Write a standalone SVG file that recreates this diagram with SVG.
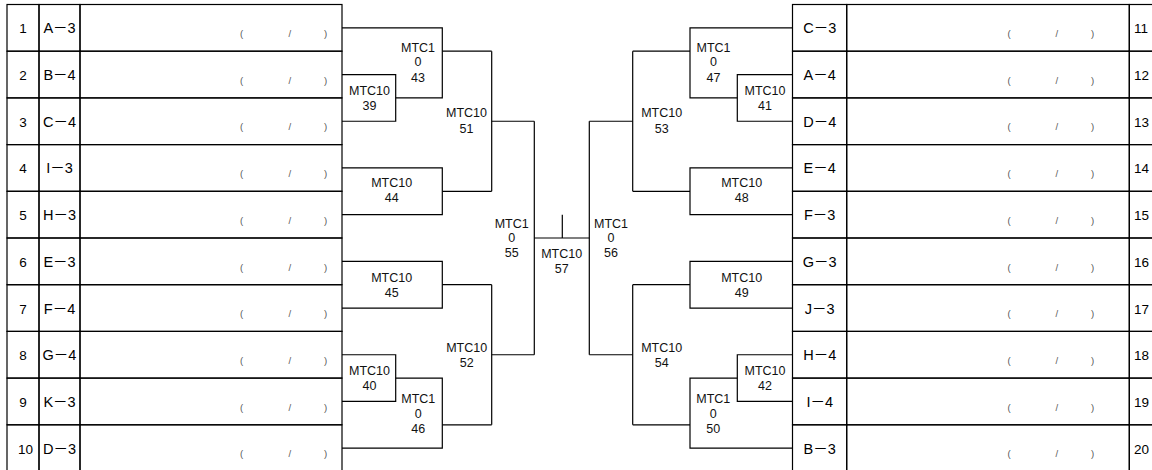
<svg xmlns="http://www.w3.org/2000/svg" width="1152" height="470" viewBox="0 0 1152 470">
<style>
.cell{fill:none;stroke:#000;stroke-width:1.2}
.num{font-family:"Liberation Sans",Arial,sans-serif;font-size:13.5px;fill:#000}
.code{font-family:"Liberation Sans","Noto Sans CJK JP",sans-serif;font-size:14.5px;fill:#000;text-anchor:middle}
.par{font-family:"Liberation Sans",Arial,sans-serif;font-size:9.5px;fill:#555}
.lbl{font-family:"Liberation Sans",Arial,sans-serif;font-size:12.5px;fill:#111;text-anchor:middle}
.con{fill:none;stroke:#000;stroke-width:1.2}
</style>
<rect width="1152" height="470" fill="#fff"/>
<g id="left-table">
<g id="row1"><rect class="cell" x="7" y="4.5" width="32" height="46.7"/><rect class="cell" x="39" y="4.5" width="41" height="46.7"/><rect class="cell" x="80" y="4.5" width="262" height="46.7"/><text class="num" x="23" y="33.3" text-anchor="middle">1</text><text class="code" x="59.5" y="33.3">A－3</text><text class="par" y="37"><tspan x="240">(</tspan> <tspan x="288.5">/</tspan> <tspan x="324">)</tspan></text></g>
<g id="row2"><rect class="cell" x="7" y="51.2" width="32" height="46.7"/><rect class="cell" x="39" y="51.2" width="41" height="46.7"/><rect class="cell" x="80" y="51.2" width="262" height="46.7"/><text class="num" x="23" y="80" text-anchor="middle">2</text><text class="code" x="59.5" y="80">B－4</text><text class="par" y="83.7"><tspan x="240">(</tspan> <tspan x="288.5">/</tspan> <tspan x="324">)</tspan></text></g>
<g id="row3"><rect class="cell" x="7" y="97.9" width="32" height="46.7"/><rect class="cell" x="39" y="97.9" width="41" height="46.7"/><rect class="cell" x="80" y="97.9" width="262" height="46.7"/><text class="num" x="23" y="126.7" text-anchor="middle">3</text><text class="code" x="59.5" y="126.7">C－4</text><text class="par" y="130.4"><tspan x="240">(</tspan> <tspan x="288.5">/</tspan> <tspan x="324">)</tspan></text></g>
<g id="row4"><rect class="cell" x="7" y="144.6" width="32" height="46.7"/><rect class="cell" x="39" y="144.6" width="41" height="46.7"/><rect class="cell" x="80" y="144.6" width="262" height="46.7"/><text class="num" x="23" y="173.4" text-anchor="middle">4</text><text class="code" x="59.5" y="173.4">I－3</text><text class="par" y="177.1"><tspan x="240">(</tspan> <tspan x="288.5">/</tspan> <tspan x="324">)</tspan></text></g>
<g id="row5"><rect class="cell" x="7" y="191.3" width="32" height="46.7"/><rect class="cell" x="39" y="191.3" width="41" height="46.7"/><rect class="cell" x="80" y="191.3" width="262" height="46.7"/><text class="num" x="23" y="220.1" text-anchor="middle">5</text><text class="code" x="59.5" y="220.1">H－3</text><text class="par" y="223.8"><tspan x="240">(</tspan> <tspan x="288.5">/</tspan> <tspan x="324">)</tspan></text></g>
<g id="row6"><rect class="cell" x="7" y="238" width="32" height="46.7"/><rect class="cell" x="39" y="238" width="41" height="46.7"/><rect class="cell" x="80" y="238" width="262" height="46.7"/><text class="num" x="23" y="266.8" text-anchor="middle">6</text><text class="code" x="59.5" y="266.8">E－3</text><text class="par" y="270.5"><tspan x="240">(</tspan> <tspan x="288.5">/</tspan> <tspan x="324">)</tspan></text></g>
<g id="row7"><rect class="cell" x="7" y="284.7" width="32" height="46.7"/><rect class="cell" x="39" y="284.7" width="41" height="46.7"/><rect class="cell" x="80" y="284.7" width="262" height="46.7"/><text class="num" x="23" y="313.5" text-anchor="middle">7</text><text class="code" x="59.5" y="313.5">F－4</text><text class="par" y="317.2"><tspan x="240">(</tspan> <tspan x="288.5">/</tspan> <tspan x="324">)</tspan></text></g>
<g id="row8"><rect class="cell" x="7" y="331.4" width="32" height="46.7"/><rect class="cell" x="39" y="331.4" width="41" height="46.7"/><rect class="cell" x="80" y="331.4" width="262" height="46.7"/><text class="num" x="23" y="360.2" text-anchor="middle">8</text><text class="code" x="59.5" y="360.2">G－4</text><text class="par" y="363.9"><tspan x="240">(</tspan> <tspan x="288.5">/</tspan> <tspan x="324">)</tspan></text></g>
<g id="row9"><rect class="cell" x="7" y="378.1" width="32" height="46.7"/><rect class="cell" x="39" y="378.1" width="41" height="46.7"/><rect class="cell" x="80" y="378.1" width="262" height="46.7"/><text class="num" x="23" y="406.9" text-anchor="middle">9</text><text class="code" x="59.5" y="406.9">K－3</text><text class="par" y="410.6"><tspan x="240">(</tspan> <tspan x="288.5">/</tspan> <tspan x="324">)</tspan></text></g>
<g id="row10"><rect class="cell" x="7" y="424.8" width="32" height="46.7"/><rect class="cell" x="39" y="424.8" width="41" height="46.7"/><rect class="cell" x="80" y="424.8" width="262" height="46.7"/><text class="num" x="18" y="453.6">10</text><text class="code" x="59.5" y="453.6">D－3</text><text class="par" y="457.3"><tspan x="240">(</tspan> <tspan x="288.5">/</tspan> <tspan x="324">)</tspan></text></g>
</g>
<g id="right-table">
<g id="row11"><rect class="cell" x="792.5" y="4.5" width="54.2" height="46.7"/><rect class="cell" x="846.7" y="4.5" width="282.6" height="46.7"/><rect class="cell" x="1129.3" y="4.5" width="40" height="46.7"/><text class="code" x="819.7" y="33.3">C－3</text><text class="par" y="37"><tspan x="1007.5">(</tspan> <tspan x="1055.5">/</tspan> <tspan x="1091">)</tspan></text><text class="num" x="1134" y="33.3">11</text></g>
<g id="row12"><rect class="cell" x="792.5" y="51.2" width="54.2" height="46.7"/><rect class="cell" x="846.7" y="51.2" width="282.6" height="46.7"/><rect class="cell" x="1129.3" y="51.2" width="40" height="46.7"/><text class="code" x="819.7" y="80">A－4</text><text class="par" y="83.7"><tspan x="1007.5">(</tspan> <tspan x="1055.5">/</tspan> <tspan x="1091">)</tspan></text><text class="num" x="1134" y="80">12</text></g>
<g id="row13"><rect class="cell" x="792.5" y="97.9" width="54.2" height="46.7"/><rect class="cell" x="846.7" y="97.9" width="282.6" height="46.7"/><rect class="cell" x="1129.3" y="97.9" width="40" height="46.7"/><text class="code" x="819.7" y="126.7">D－4</text><text class="par" y="130.4"><tspan x="1007.5">(</tspan> <tspan x="1055.5">/</tspan> <tspan x="1091">)</tspan></text><text class="num" x="1134" y="126.7">13</text></g>
<g id="row14"><rect class="cell" x="792.5" y="144.6" width="54.2" height="46.7"/><rect class="cell" x="846.7" y="144.6" width="282.6" height="46.7"/><rect class="cell" x="1129.3" y="144.6" width="40" height="46.7"/><text class="code" x="819.7" y="173.4">E－4</text><text class="par" y="177.1"><tspan x="1007.5">(</tspan> <tspan x="1055.5">/</tspan> <tspan x="1091">)</tspan></text><text class="num" x="1134" y="173.4">14</text></g>
<g id="row15"><rect class="cell" x="792.5" y="191.3" width="54.2" height="46.7"/><rect class="cell" x="846.7" y="191.3" width="282.6" height="46.7"/><rect class="cell" x="1129.3" y="191.3" width="40" height="46.7"/><text class="code" x="819.7" y="220.1">F－3</text><text class="par" y="223.8"><tspan x="1007.5">(</tspan> <tspan x="1055.5">/</tspan> <tspan x="1091">)</tspan></text><text class="num" x="1134" y="220.1">15</text></g>
<g id="row16"><rect class="cell" x="792.5" y="238" width="54.2" height="46.7"/><rect class="cell" x="846.7" y="238" width="282.6" height="46.7"/><rect class="cell" x="1129.3" y="238" width="40" height="46.7"/><text class="code" x="819.7" y="266.8">G－3</text><text class="par" y="270.5"><tspan x="1007.5">(</tspan> <tspan x="1055.5">/</tspan> <tspan x="1091">)</tspan></text><text class="num" x="1134" y="266.8">16</text></g>
<g id="row17"><rect class="cell" x="792.5" y="284.7" width="54.2" height="46.7"/><rect class="cell" x="846.7" y="284.7" width="282.6" height="46.7"/><rect class="cell" x="1129.3" y="284.7" width="40" height="46.7"/><text class="code" x="819.7" y="313.5">J－3</text><text class="par" y="317.2"><tspan x="1007.5">(</tspan> <tspan x="1055.5">/</tspan> <tspan x="1091">)</tspan></text><text class="num" x="1134" y="313.5">17</text></g>
<g id="row18"><rect class="cell" x="792.5" y="331.4" width="54.2" height="46.7"/><rect class="cell" x="846.7" y="331.4" width="282.6" height="46.7"/><rect class="cell" x="1129.3" y="331.4" width="40" height="46.7"/><text class="code" x="819.7" y="360.2">H－4</text><text class="par" y="363.9"><tspan x="1007.5">(</tspan> <tspan x="1055.5">/</tspan> <tspan x="1091">)</tspan></text><text class="num" x="1134" y="360.2">18</text></g>
<g id="row19"><rect class="cell" x="792.5" y="378.1" width="54.2" height="46.7"/><rect class="cell" x="846.7" y="378.1" width="282.6" height="46.7"/><rect class="cell" x="1129.3" y="378.1" width="40" height="46.7"/><text class="code" x="819.7" y="406.9">I－4</text><text class="par" y="410.6"><tspan x="1007.5">(</tspan> <tspan x="1055.5">/</tspan> <tspan x="1091">)</tspan></text><text class="num" x="1134" y="406.9">19</text></g>
<g id="row20"><rect class="cell" x="792.5" y="424.8" width="54.2" height="46.7"/><rect class="cell" x="846.7" y="424.8" width="282.6" height="46.7"/><rect class="cell" x="1129.3" y="424.8" width="40" height="46.7"/><text class="code" x="819.7" y="453.6">B－3</text><text class="par" y="457.3"><tspan x="1007.5">(</tspan> <tspan x="1055.5">/</tspan> <tspan x="1091">)</tspan></text><text class="num" x="1134" y="453.6">20</text></g>
</g>
<g id="connectors">
<path class="con" d="M342,74.55H395.7V121.25H342"/>
<path class="con" d="M342,27.85H442.3V97.9H395.7"/>
<path class="con" d="M442.3,51.2H491.7"/>
<path class="con" d="M342,167.95H442.3V214.65H342"/>
<path class="con" d="M442.3,191.3H491.7"/>
<path class="con" d="M491.7,51.2V191.3"/>
<path class="con" d="M491.7,121.25H534.3"/>
<path class="con" d="M342,261.35H442.3V308.05H342"/>
<path class="con" d="M442.3,284.7H491.7"/>
<path class="con" d="M342,354.75H395.7V401.45H342"/>
<path class="con" d="M395.7,378.1H442.3V448.15H342"/>
<path class="con" d="M442.3,424.8H491.7"/>
<path class="con" d="M491.7,284.7V424.8"/>
<path class="con" d="M491.7,354.75H534.3"/>
<path class="con" d="M534.3,121.25V354.75"/>
<path class="con" d="M534.3,238H589.3"/>
<path class="con" d="M562.3,214.65V238"/>
<path class="con" d="M589.3,121.25V354.75"/>
<path class="con" d="M589.3,121.25H632.7"/>
<path class="con" d="M589.3,354.75H632.7"/>
<path class="con" d="M632.7,51.2V191.3"/>
<path class="con" d="M792.5,27.85H690V97.9H737.3"/>
<path class="con" d="M632.7,51.2H690"/>
<path class="con" d="M792.5,74.55H737.3V121.25H792.5"/>
<path class="con" d="M792.5,167.95H690V214.65H792.5"/>
<path class="con" d="M632.7,191.3H690"/>
<path class="con" d="M632.7,284.7V424.8"/>
<path class="con" d="M792.5,261.35H690V308.05H792.5"/>
<path class="con" d="M632.7,284.7H690"/>
<path class="con" d="M792.5,354.75H737.3V401.45H792.5"/>
<path class="con" d="M737.3,378.1H690V448.15H792.5"/>
<path class="con" d="M632.7,424.8H690"/>
</g>
<g id="m39"><text class="lbl" x="369.5" y="95">MTC10</text><text class="lbl" x="369.5" y="109.5">39</text></g>
<g id="m40"><text class="lbl" x="369.5" y="375">MTC10</text><text class="lbl" x="369.5" y="390">40</text></g>
<g id="m41"><text class="lbl" x="765" y="95">MTC10</text><text class="lbl" x="765" y="110">41</text></g>
<g id="m42"><text class="lbl" x="765" y="375">MTC10</text><text class="lbl" x="765" y="390">42</text></g>
<g id="m43"><text class="lbl" x="418" y="51.7">MTC1</text><text class="lbl" x="418" y="65.5">0</text><text class="lbl" x="418" y="81.5">43</text></g>
<g id="m44"><text class="lbl" x="391.7" y="187.3">MTC10</text><text class="lbl" x="391.7" y="202.3">44</text></g>
<g id="m45"><text class="lbl" x="391.7" y="281.7">MTC10</text><text class="lbl" x="391.7" y="296.7">45</text></g>
<g id="m46"><text class="lbl" x="418.3" y="403.3">MTC1</text><text class="lbl" x="418.3" y="417.5">0</text><text class="lbl" x="418.3" y="432.7">46</text></g>
<g id="m47"><text class="lbl" x="713.5" y="51.7">MTC1</text><text class="lbl" x="713.5" y="65.5">0</text><text class="lbl" x="713.5" y="81.5">47</text></g>
<g id="m48"><text class="lbl" x="741.7" y="187.3">MTC10</text><text class="lbl" x="741.7" y="202.3">48</text></g>
<g id="m49"><text class="lbl" x="741.7" y="281.7">MTC10</text><text class="lbl" x="741.7" y="296.7">49</text></g>
<g id="m50"><text class="lbl" x="713.3" y="403.3">MTC1</text><text class="lbl" x="713.3" y="417.5">0</text><text class="lbl" x="713.3" y="432.7">50</text></g>
<g id="m51"><text class="lbl" x="466.5" y="117.3">MTC10</text><text class="lbl" x="466.5" y="132.7">51</text></g>
<g id="m52"><text class="lbl" x="466.7" y="351.7">MTC10</text><text class="lbl" x="466.7" y="366.7">52</text></g>
<g id="m53"><text class="lbl" x="661.7" y="117.3">MTC10</text><text class="lbl" x="661.7" y="132.7">53</text></g>
<g id="m54"><text class="lbl" x="661.7" y="351.7">MTC10</text><text class="lbl" x="661.7" y="366.7">54</text></g>
<g id="m55"><text class="lbl" x="511.7" y="228.3">MTC1</text><text class="lbl" x="511.7" y="241.5">0</text><text class="lbl" x="511.7" y="256.5">55</text></g>
<g id="m56"><text class="lbl" x="611" y="228.3">MTC1</text><text class="lbl" x="611" y="241.5">0</text><text class="lbl" x="611" y="256.5">56</text></g>
<g id="m57"><text class="lbl" x="561.7" y="258">MTC10</text><text class="lbl" x="561.7" y="272.7">57</text></g>
</svg>
